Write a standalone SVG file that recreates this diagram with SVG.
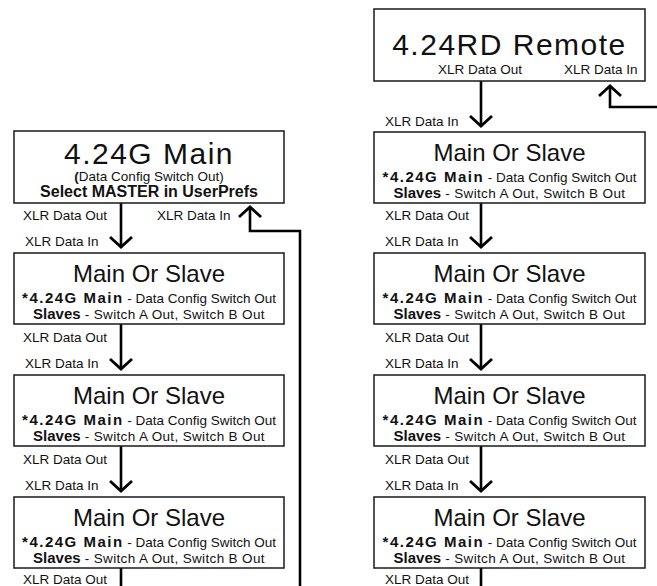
<svg xmlns="http://www.w3.org/2000/svg" width="657" height="586" viewBox="0 0 657 586">
<defs>
<style>
.box{fill:#fff;stroke:#1a1a1a;stroke-width:1.5}
text{font-family:"Liberation Sans",Arial,sans-serif;fill:#111}
.big{font-size:30px;letter-spacing:1.5px;text-anchor:middle}
.ttl{font-size:24px;text-anchor:middle}
.ln{font-size:13.5px;text-anchor:middle}
.sp{letter-spacing:0.35px}
.b{font-weight:bold;font-size:15px;letter-spacing:0}
.bs{letter-spacing:1.5px}
.lbl{font-size:13.5px}
.sel{font-size:16px;font-weight:bold;text-anchor:middle}
.con{fill:none;stroke:#000;stroke-width:2.6}
</style>
<marker id="ah" markerUnits="userSpaceOnUse" orient="auto" markerWidth="30" markerHeight="30" overflow="visible">
<path d="M-10,-11 L0,0 L-10,11" fill="none" stroke="#000" stroke-width="2.8"/>
</marker>
</defs>

<g id="connectors">
<path class="con" d="M121,203 V247" marker-end="url(#ah)"/>
<path class="con" d="M121,324 V369" marker-end="url(#ah)"/>
<path class="con" d="M121,446 V491" marker-end="url(#ah)"/>
<path class="con" d="M121,568 V586"/>
<path class="con" d="M300,586 V231 H250 V207" marker-end="url(#ah)"/>
<path class="con" d="M481,81 V126" marker-end="url(#ah)"/>
<path class="con" d="M481,203 V247" marker-end="url(#ah)"/>
<path class="con" d="M481,324 V369" marker-end="url(#ah)"/>
<path class="con" d="M481,446 V491" marker-end="url(#ah)"/>
<path class="con" d="M481,568 V586"/>
<path class="con" d="M657,107 H610 V86" marker-end="url(#ah)"/>
</g>

<g id="labels">
<text class="lbl" x="23" y="220">XLR Data Out</text>
<text class="lbl" x="157" y="220">XLR Data In</text>
<text class="lbl" x="25" y="246">XLR Data In</text>
<text class="lbl" x="23" y="342">XLR Data Out</text>
<text class="lbl" x="25" y="368">XLR Data In</text>
<text class="lbl" x="23" y="464">XLR Data Out</text>
<text class="lbl" x="25" y="490">XLR Data In</text>
<text class="lbl" x="23" y="584">XLR Data Out</text>
<text class="lbl" x="385" y="126">XLR Data In</text>
<text class="lbl" x="385" y="220">XLR Data Out</text>
<text class="lbl" x="385" y="246">XLR Data In</text>
<text class="lbl" x="385" y="342">XLR Data Out</text>
<text class="lbl" x="385" y="368">XLR Data In</text>
<text class="lbl" x="385" y="464">XLR Data Out</text>
<text class="lbl" x="385" y="490">XLR Data In</text>
<text class="lbl" x="385" y="584">XLR Data Out</text>
</g>

<g id="remote">
<rect class="box" x="374" y="9" width="271" height="72"/>
<text class="big" x="509.5" y="55">4.24RD Remote</text>
<text class="lbl" x="438" y="74">XLR Data Out</text>
<text class="lbl" x="564" y="74">XLR Data In</text>
</g>

<g id="main">
<rect class="box" x="14" y="131" width="270" height="72"/>
<text class="big" x="149" y="164">4.24G Main</text>
<text class="ln" x="149" y="181"><tspan font-weight="bold">(</tspan>Data Config Switch Out)</text>
<text class="sel" x="149" y="197">Select MASTER in UserPrefs</text>
</g>

<g id="left-slave-1">
<rect class="box" x="14" y="253" width="270" height="71"/>
<text class="ttl" x="149" y="282">Main Or Slave</text>
<text class="ln" x="149" y="303"><tspan class="b bs">*4.24G Main</tspan> - Data Config Switch Out</text>
<text class="ln sp" x="149" y="319"><tspan class="b">Slaves</tspan> - Switch A Out, Switch B Out</text>
</g>
<g id="left-slave-2">
<rect class="box" x="14" y="375" width="270" height="71"/>
<text class="ttl" x="149" y="404">Main Or Slave</text>
<text class="ln" x="149" y="425"><tspan class="b bs">*4.24G Main</tspan> - Data Config Switch Out</text>
<text class="ln sp" x="149" y="441"><tspan class="b">Slaves</tspan> - Switch A Out, Switch B Out</text>
</g>
<g id="left-slave-3">
<rect class="box" x="14" y="497" width="270" height="71"/>
<text class="ttl" x="149" y="526">Main Or Slave</text>
<text class="ln" x="149" y="547"><tspan class="b bs">*4.24G Main</tspan> - Data Config Switch Out</text>
<text class="ln sp" x="149" y="563"><tspan class="b">Slaves</tspan> - Switch A Out, Switch B Out</text>
</g>

<g id="right-slave-1">
<rect class="box" x="374" y="132" width="271" height="71"/>
<text class="ttl" x="509.5" y="161">Main Or Slave</text>
<text class="ln" x="509.5" y="182"><tspan class="b bs">*4.24G Main</tspan> - Data Config Switch Out</text>
<text class="ln sp" x="509.5" y="198"><tspan class="b">Slaves</tspan> - Switch A Out, Switch B Out</text>
</g>
<g id="right-slave-2">
<rect class="box" x="374" y="253" width="271" height="71"/>
<text class="ttl" x="509.5" y="282">Main Or Slave</text>
<text class="ln" x="509.5" y="303"><tspan class="b bs">*4.24G Main</tspan> - Data Config Switch Out</text>
<text class="ln sp" x="509.5" y="319"><tspan class="b">Slaves</tspan> - Switch A Out, Switch B Out</text>
</g>
<g id="right-slave-3">
<rect class="box" x="374" y="375" width="271" height="71"/>
<text class="ttl" x="509.5" y="404">Main Or Slave</text>
<text class="ln" x="509.5" y="425"><tspan class="b bs">*4.24G Main</tspan> - Data Config Switch Out</text>
<text class="ln sp" x="509.5" y="441"><tspan class="b">Slaves</tspan> - Switch A Out, Switch B Out</text>
</g>
<g id="right-slave-4">
<rect class="box" x="374" y="497" width="271" height="71"/>
<text class="ttl" x="509.5" y="526">Main Or Slave</text>
<text class="ln" x="509.5" y="547"><tspan class="b bs">*4.24G Main</tspan> - Data Config Switch Out</text>
<text class="ln sp" x="509.5" y="563"><tspan class="b">Slaves</tspan> - Switch A Out, Switch B Out</text>
</g>
</svg>
